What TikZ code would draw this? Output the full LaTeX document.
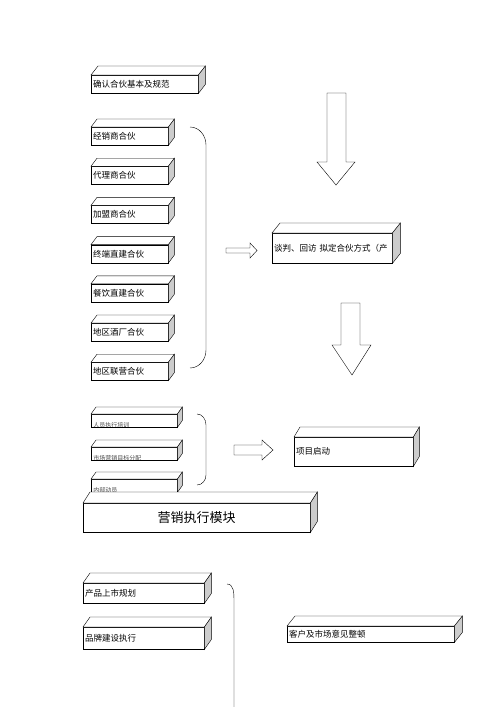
\documentclass[tikz,border=0pt]{standalone}
\usepackage{fontspec}
\usepackage{tikz}
\usetikzlibrary{calc}
\newfontfamily\cjk{Noto Sans CJK SC}

% top and side face of a box node #1, depth (#2,#3)
\newcommand{\kotak}[3]{%
  \filldraw[fill=white] (#1.north west) -- ++(#2,#3) -- ($(#1.north east)+(#2,#3)$) -- (#1.north east) -- cycle;
  \filldraw[fill=gray!40] (#1.north east) -- ++(#2,#3) -- ($(#1.south east)+(#2,#3)$) -- (#1.south east) -- cycle;
}

\begin{document}
\begin{tikzpicture}[x=1pt,y=-1pt,
    blok/.style={draw,fill=white,anchor=north west,inner xsep=2pt,inner ysep=0pt,
      align=left,font=\cjk\fontsize{8.5}{10}\selectfont},
    kabur/.style={draw,fill=white,anchor=north west,inner sep=0pt,minimum height=13pt,
      path picture={\node[anchor=north west,inner sep=1pt,minimum width=0pt,
        minimum height=0pt,text=black!70,font=\cjk\fontsize{6}{6}\selectfont]
        at ([xshift=1pt,yshift=-7pt]path picture bounding box.north west) {#1};}},
    panah/.style={draw,fill=white}
  ]
  \useasboundingbox (0,0) rectangle (500,707);

  % top
  \node[blok,text width=103pt,minimum height=18pt] (queren) at (91,75) {确认合伙基本及规范};
  \kotak{queren}{7}{-9}

  % kinds of partners
  \foreach \teks [count=\i from 0] in {经销商合伙,代理商合伙,加盟商合伙,终端直建合伙,
      餐饮直建合伙,地区酒厂合伙,地区联营合伙}{
    \node[blok,text width=73pt,minimum height=18pt] (mitra\i) at (91,127+39.2*\i) {\teks};
    \kotak{mitra\i}{6}{-8}
  }
  \draw (190,127) to[out=0,in=90] (206,145) -- (206,350) to[out=-90,in=0] (190,368);

  % big arrows
  \filldraw[fill=white] (327,93) -- (346,93) -- (346,162) -- (355,162) -- (336,185)
    -- (317,162) -- (327,162) -- cycle;
  \filldraw[fill=white] (341,303) -- (360,303) -- (360,345) -- (371,345) -- (352,375)
    -- (332,345) -- (341,345) -- cycle;
  \filldraw[fill=white] (226,248) -- (250,248) -- (250,243) -- (257,250.5) -- (250,258)
    -- (250,253) -- (226,253) -- cycle;

  \node[blok,text width=116pt,minimum height=30pt] (tanpan) at (272,233)
    {\mbox{谈判、回访 拟定合伙方式（产}};
  \kotak{tanpan}{8}{-10}

  % launch
  \node[kabur=人员执行培训,minimum width=86pt] (latih) at (91,414) {};
  \kotak{latih}{5}{-7}
  \node[kabur=市场营销目标分配,minimum width=86pt] (target) at (91,447) {};
  \kotak{target}{5}{-7}
  \node[kabur=内部动员,minimum width=86pt] (dongyuan) at (91,479) {};
  \kotak{dongyuan}{5}{-7}
  \draw (197,414) to[out=0,in=90] (206,425) -- (206,475) to[out=-90,in=0] (197,485);

  \filldraw[fill=white] (234,445) -- (262,445) -- (262,440) -- (273,450) -- (262,460)
    -- (262,455) -- (234,455) -- cycle;
  \node[blok,text width=115pt,minimum height=29pt] (qidong) at (294,437) {项目启动};
  \kotak{qidong}{6}{-10}

  \node[blok,align=center,text width=223pt,minimum height=29pt,
    font=\cjk\fontsize{13}{15}\selectfont] (modul) at (83,503) {营销执行模块};
  \kotak{modul}{7}{-11}

  % marketing execution
  \node[blok,text width=117pt,minimum height=20pt] (shangshi) at (83,583) {产品上市规划};
  \kotak{shangshi}{7}{-10}
  \node[blok,text width=117pt,minimum height=22pt] (pinpai) at (83,627) {品牌建设执行};
  \kotak{pinpai}{7}{-10}
  \draw (227,584) to[out=0,in=90] (234,600) -- (234,707);

  \node[blok,text width=163pt,minimum height=16pt] (kehu) at (287,626) {客户及市场意见整顿};
  \kotak{kehu}{8}{-10}
\end{tikzpicture}
\end{document}
